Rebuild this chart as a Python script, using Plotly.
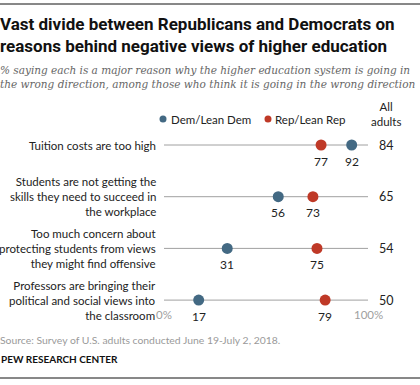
import plotly.graph_objects as go

categories = [
    "Tuition costs are too high",
    "Students are not getting the<br>skills they need to succeed in<br>the workplace",
    "Too much concern about<br>protecting students from views<br>they might find offensive",
    "Professors are bringing their<br>political and social views into<br>the classroom",
]
dem = [92, 56, 31, 17]
rep = [77, 73, 75, 79]
all_adults = [84, 65, 54, 50]

DEM_C = "#436983"
REP_C = "#bf3927"
GRAY = "#a0a0a0"
TXT = "#222222"
BODY = "Lato, 'Open Sans', sans-serif"

W, H = 420, 385


def px(x):
    return x / W


def py(y):
    return 1 - y / H


x0p, x1p = 164, 368
row0, rowstep = 145, 51.7
rows = list(range(len(categories)))

fig = go.Figure()

lx, ly = [], []
for i in rows:
    lx += [0, 100, None]
    ly += [i, i, None]
fig.add_trace(go.Scatter(x=lx, y=ly, mode="lines", line=dict(color=GRAY, width=1),
                         hoverinfo="skip", showlegend=False, cliponaxis=False))

fig.add_trace(go.Scatter(x=dem, y=rows, mode="markers", name="Dem/Lean Dem",
                         marker=dict(color=DEM_C, size=11), showlegend=False, cliponaxis=False))
fig.add_trace(go.Scatter(x=rep, y=rows, mode="markers", name="Rep/Lean Rep",
                         marker=dict(color=REP_C, size=11), showlegend=False, cliponaxis=False))

ann = []
for i, (c, a, d, r) in enumerate(zip(categories, all_adults, dem, rep)):
    ann.append(dict(x=px(158), y=i, xref="paper", yref="y", text=c, showarrow=False,
                    xanchor="right", yanchor="middle", align="right",
                    font=dict(family=BODY, size=11.5, color=TXT)))
    ann.append(dict(x=px(386), y=i, xref="paper", yref="y", text=str(a), showarrow=False,
                    xanchor="center", yanchor="middle", font=dict(family=BODY, size=12.5, color=TXT)))
    for v in (d, r):
        ann.append(dict(x=v, y=i, xref="x", yref="y", text=str(v), showarrow=False,
                        xanchor="center", yanchor="middle", yshift=-16,
                        font=dict(family=BODY, size=12, color=TXT)))

ann.append(dict(x=0, y=3, xref="x", yref="y", text="0%", showarrow=False, yshift=-14,
                font=dict(family=BODY, size=11.5, color=GRAY)))
ann.append(dict(x=100, y=3, xref="x", yref="y", text="100%", showarrow=False, yshift=-14,
                font=dict(family=BODY, size=11.5, color=GRAY)))

ann.append(dict(x=px(386), y=py(114), xref="paper", yref="paper", text="All<br>adults",
                showarrow=False, xanchor="center", yanchor="middle",
                font=dict(family=BODY, size=11.5, color=TXT)))

ann.append(dict(x=px(169), y=py(119), xref="paper", yref="paper", text="Dem/Lean Dem",
                showarrow=False, xanchor="left", yanchor="middle", font=dict(family=BODY, size=11.5, color=TXT)))
ann.append(dict(x=px(273), y=py(119), xref="paper", yref="paper", text="Rep/Lean Rep",
                showarrow=False, xanchor="left", yanchor="middle", font=dict(family=BODY, size=11.5, color=TXT)))

ann.append(dict(x=px(-2), y=py(12), xref="paper", yref="paper",
                text="<b>Vast divide between Republicans and Democrats on<br>reasons behind negative views of higher education</b>",
                showarrow=False, xanchor="left", yanchor="top", align="left",
                font=dict(family="Roboto, sans-serif", size=17, color="#111111")))
ann.append(dict(x=px(-2), y=py(62), xref="paper", yref="paper",
                text="<i>% saying each is a major reason why the higher education system is going in<br>the wrong direction, among those who think it is going in the wrong direction</i>",
                showarrow=False, xanchor="left", yanchor="top", align="left",
                font=dict(family="'DejaVu Serif', serif", size=10.5, color="#666666")))
ann.append(dict(x=px(-2), y=py(340), xref="paper", yref="paper",
                text="Source: Survey of U.S. adults conducted June 19-July 2, 2018.",
                showarrow=False, xanchor="left", yanchor="middle",
                font=dict(family=BODY, size=10.4, color="#9a9a9a")))
ann.append(dict(x=px(-1), y=py(359), xref="paper", yref="paper",
                text="<b>PEW RESEARCH CENTER</b>",
                showarrow=False, xanchor="left", yanchor="middle",
                font=dict(family=BODY, size=10, color="#111111")))

shapes = [
    dict(type="line", xref="paper", yref="paper", x0=0, x1=1, y0=py(4), y1=py(4),
         line=dict(color="#111111", width=1)),
    dict(type="line", xref="paper", yref="paper", x0=0, x1=1, y0=py(378), y1=py(378),
         line=dict(color="#111111", width=1)),
    dict(type="circle", xref="paper", yref="paper", x0=px(159.5), x1=px(166.5),
         y0=py(122.5), y1=py(115.5), fillcolor=DEM_C, line=dict(width=0)),
    dict(type="circle", xref="paper", yref="paper", x0=px(264.5), x1=px(271.5),
         y0=py(122.5), y1=py(115.5), fillcolor=REP_C, line=dict(width=0)),
]

ytop = -row0 / rowstep
ybot = (H - row0) / rowstep
fig.update_layout(
    width=W, height=H, margin=dict(l=0, r=0, t=0, b=0),
    paper_bgcolor="white", plot_bgcolor="white",
    xaxis=dict(domain=[px(x0p), px(x1p)], range=[0, 100], visible=False, fixedrange=True),
    yaxis=dict(domain=[0, 1], range=[ybot, ytop], visible=False, fixedrange=True),
    annotations=ann, shapes=shapes, showlegend=False, hovermode=False,
)

fig.write_html("out.html", config={"displayModeBar": False},
               post_script="document.body.style.margin='0';")
